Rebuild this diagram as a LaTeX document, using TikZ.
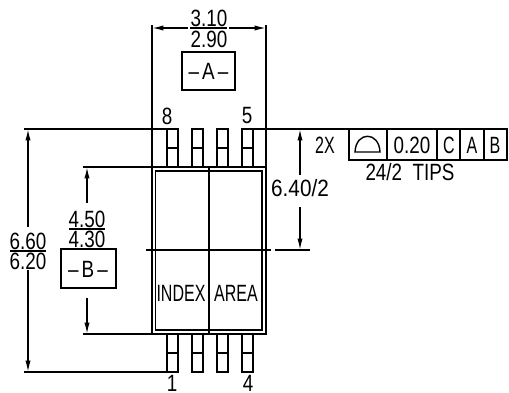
\documentclass[tikz,border=0pt]{standalone}
\usepackage{fontspec}
\setmainfont{Liberation Sans}
\usetikzlibrary{arrows.meta}
\tikzset{
  cadtext/.style={inner sep=0pt,xscale=0.8,font=\fontsize{13.4}{14}\selectfont},
  cadword/.style={cadtext,xscale=0.85},
  dimline/.style={thick,-{Latex[length=6.5pt,width=3pt]}},
}
\begin{document}
\begin{tikzpicture}[x=0.02cm,y=-0.02cm,line join=miter]
\newcommand{\pinw}{11}
\newcommand{\lead}[3]{\draw [thick] (#1,#2) rectangle (#1+\pinw,#3); \draw [thick] (#1,#2/2+#3/2) -- (#1+\pinw,#2/2+#3/2);}
\useasboundingbox (0,0) rectangle (509,392);

% package outline
\draw [thick] (152,167) rectangle (266,334);
\draw [thick] (155.5,171) rectangle (262,330);
\draw [line width=1.6pt] (266,167) -- (266,334);
\draw [thick] (209,167)--(209,334);
\draw [thick] (146,250)--(271,250);

% leads
\lead{167}{129}{167}\lead{192}{129}{167}\lead{217}{129}{167}\lead{242}{129}{167}
\lead{167}{334}{372}\lead{192}{334}{372}\lead{217}{334}{372}\lead{242}{334}{372}
\node [cadtext] (pin8) at (167,116) {8};
\node [cadtext] (pin5) at (247,116) {5};
\node [cadtext] (pin1) at (172,383) {1};
\node [cadtext] (pin4) at (248,383) {4};
\node [cadword] (index) at (181,293) {INDEX};
\node [cadword] (area) at (236,293) {AREA};

% width on top
\draw [thick] (152,25)--(152,167);
\draw [thick] (266,25)--(266,167);
\draw [dimline] (188,28)--(152,28);
\draw [dimline] (229,28)--(266,28);
\draw [thick] (190,28)--(227,28);
\node [cadtext] (wtop) at (209,18) {3.10};
\node [cadtext] (wbot) at (209,39) {2.90};
\draw [thick] (182,52) rectangle (235,90);
\node [cadtext] (datuma) at (208.5,71) {\textendash\,A\,\textendash};

% extension lines
\draw [thick] (24,129)--(167,129);
\draw [thick] (252,129)--(349,129);
\draw [thick] (24,372)--(167,372);
\draw [thick] (83,167)--(152,167);
\draw [thick] (83,334)--(152,334);
\draw [thick] (275,250)--(310,250);

% overall height
\draw [dimline] (28,227)--(28,129);
\draw [dimline] (28,270)--(28,372);
\draw [thick] (10,251)--(46,251);
\node [cadtext] (htop) at (28,241) {6.60};
\node [cadtext] (hbot) at (28,261) {6.20};

% body height
\draw [dimline] (87,203)--(87,167);
\draw [dimline] (87,298)--(87,334);
\draw [thick] (69,229)--(105,229);
\node [cadtext] (btop) at (87,219) {4.50};
\node [cadtext] (bbot) at (87,239) {4.30};
\draw [thick] (61,249) rectangle (116,288);
\node [cadtext] (datumb) at (88,269) {\textendash\,B\,\textendash};

% half span
\draw [dimline] (300,175)--(300,129);
\draw [dimline] (300,207)--(300,250);
\node [cadtext,xscale=1.1] (span) at (300,188) {6.40/2};

% tolerance frame
\draw [thick] (349,129) rectangle (507,160);
\foreach \xcut in {387,437,460,484} {
  \draw [thick] (\xcut,129)--(\xcut,160);
}
\draw [thick] (355,152) .. controls (356,131) and (379,131) .. (380,152) -- cycle;
\node [cadword] (count) at (325,145) {2X};
\node [cadtext] (tol) at (412,145) {0.20};
\node [cadword] (refc) at (449,145) {C};
\node [cadword] (refa) at (472,145) {A};
\node [cadword] (refb) at (495,145) {B};
\node [cadtext] (tips) at (410,172) {24/2\ \ TIPS};
\end{tikzpicture}
\end{document}
